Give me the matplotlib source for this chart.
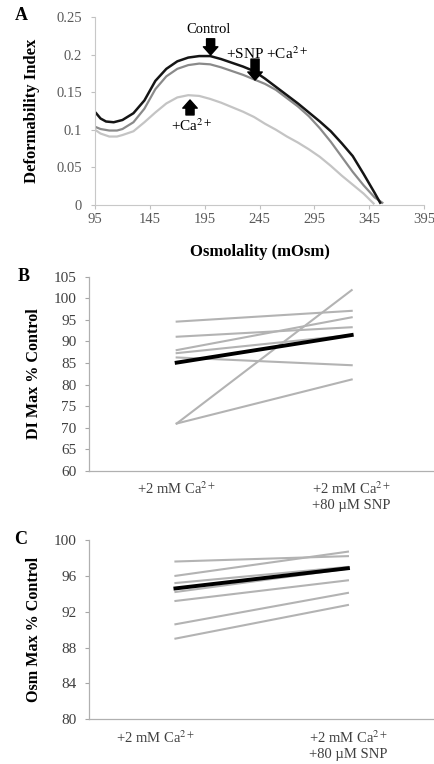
import matplotlib.pyplot as plt
from matplotlib.transforms import ScaledTranslation

plt.rcParams["font.family"] = ["Liberation Serif", "DejaVu Serif"]
plt.rcParams["mathtext.fontset"] = "stix"

# Panel A: deformability curves
osm_ctrl = [96, 100, 105, 112, 120, 130, 140, 150, 160, 170, 180, 190, 200,
            210, 220, 230, 240, 250, 260, 270, 280, 290, 300, 310, 320, 330,
            340, 350, 355]
di_ctrl = [0.122, 0.115, 0.111, 0.110, 0.113, 0.122, 0.139, 0.165, 0.181,
           0.191, 0.196, 0.198, 0.198, 0.194, 0.189, 0.184, 0.178, 0.168,
           0.157, 0.146, 0.135, 0.123, 0.111, 0.098, 0.082, 0.065, 0.041,
           0.016, 0.003]

osm_snp = [95, 100, 108, 115, 120, 130, 140, 150, 160, 170, 180, 190, 200,
           210, 220, 230, 240, 250, 260, 270, 280, 290, 300, 310, 320, 330,
           340, 350, 357]
di_snp = [0.104, 0.101, 0.099, 0.099, 0.101, 0.110, 0.128, 0.154, 0.171,
          0.181, 0.186, 0.188, 0.187, 0.183, 0.178, 0.173, 0.167, 0.161,
          0.153, 0.142, 0.131, 0.118, 0.102, 0.084, 0.064, 0.044, 0.026,
          0.010, 0.003]

osm_ca = [95, 100, 108, 115, 120, 130, 140, 150, 160, 170, 180, 190, 200,
          210, 220, 230, 240, 250, 260, 270, 280, 290, 300, 310, 320, 330,
          340, 349]
di_ca = [0.100, 0.095, 0.091, 0.091, 0.093, 0.098, 0.110, 0.123, 0.135,
         0.143, 0.146, 0.145, 0.141, 0.136, 0.130, 0.124, 0.117, 0.108,
         0.100, 0.091, 0.083, 0.074, 0.064, 0.052, 0.039, 0.027, 0.015,
         0.002]

# Panels B and C: paired values (Ca only, Ca + SNP)
categories = ["+2 mM Ca$^{2+}$", "+2 mM Ca$^{2+}$\n+80 \u00b5M SNP"]

di_ca_only = [94.6, 91.1, 88.0, 87.3, 86.3, 71.0, 71.0]
di_ca_snp = [97.1, 93.3, 95.6, 91.5, 84.5, 101.9, 81.2]
di_mean = [85.1, 91.5]

osm_ca_only = [97.6, 96.0, 95.2, 94.2, 93.2, 90.6, 89.0]
osm_ca_snp = [98.2, 98.7, 97.0, 96.8, 95.5, 94.1, 92.75]
osm_mean = [94.6, 96.85]

fig = plt.figure(figsize=(4.34, 7.64), dpi=100)

# ---------------- A ----------------
axA = fig.add_axes([0.219, 0.7317, 0.758, 0.2461])
axA.plot(osm_ca, di_ca, color="#c4c4c4", lw=1.6)
axA.plot(osm_snp, di_snp, color="#8a8a8a", lw=1.6)
axA.plot(osm_ctrl, di_ctrl, color="#151515", lw=1.8)

axA.set_xlim(95, 395)
axA.set_ylim(0, 0.25)
axA.set_xticks(range(95, 396, 50))
axA.set_yticks([0, 0.05, 0.1, 0.15, 0.2, 0.25])
axA.set_yticklabels(["0", "0.05", "0.1", "0.15", "0.2", "0.25"])
axA.tick_params(colors="#c0c0c0", labelcolor="#595959", labelsize=10.5,
                length=3, width=0.8)
axA.tick_params(axis="y", pad=6.5)
axA.tick_params(axis="x", pad=3)
for s in ["top", "right"]:
    axA.spines[s].set_visible(False)
for s in ["left", "bottom"]:
    axA.spines[s].set_color("#c8c8c8")
    axA.spines[s].set_linewidth(0.8)

axA.set_ylabel("Deformability Index", fontsize=12, fontweight="bold")
axA.yaxis.set_label_coords(-0.167, 0.5)
axA.set_xlabel("Osmolality (mOsm)", fontsize=12, fontweight="bold")
axA.xaxis.set_label_coords(0.5, -0.205)

arrow = dict(arrowstyle="simple,head_length=0.45,head_width=0.8,tail_width=0.45",
             mutation_scale=13, color="black", shrinkA=0, shrinkB=0)
axA.annotate("", xy=(200.4, 0.1995), xytext=(200.4, 0.221), arrowprops=arrow)
axA.annotate("", xy=(240.9, 0.166), xytext=(240.9, 0.194), arrowprops=arrow)
axA.annotate("", xy=(181.6, 0.1396), xytext=(181.6, 0.1197), arrowprops=arrow)
axA.text(198.3, 0.2327, "Control", ha="center", va="center", fontsize=10.5)
axA.text(214, 0.2017, "+SNP +Ca$^{2+}$", ha="left", va="center", fontsize=11)
axA.text(183.2, 0.105, "+Ca$^{2+}$", ha="center", va="center", fontsize=11)
fig.text(21.7 / 434, 1 - 15 / 764, "A", ha="center", va="center",
         fontsize=13, fontweight="bold")


def paired(ax, before, after, mean, ylim, yticks, ylabel):
    for b, a in zip(before, after):
        ax.plot([0, 1], [b, a], color="#b3b3b3", lw=1.5)
    ax.plot([0, 1], mean, color="black", lw=2.8)
    ax.set_xlim(-0.5, 1.5)
    ax.set_ylim(*ylim)
    ax.set_yticks(yticks)
    ax.set_xticks([0, 1])
    ax.set_xticklabels(categories)
    ax.tick_params(axis="y", colors="#a6a6a6", labelcolor="#404040",
                   labelsize=11, length=3, width=0.8, pad=6)
    ax.tick_params(axis="x", length=0, labelcolor="#404040", labelsize=10.5,
                   pad=7)
    for s in ["top", "right"]:
        ax.spines[s].set_visible(False)
    for s in ["left", "bottom"]:
        ax.spines[s].set_color("#b0b0b0")
        ax.spines[s].set_linewidth(0.9)
    ax.set_ylabel(ylabel, fontsize=11.6, fontweight="bold")


# ---------------- B ----------------
axB = fig.add_axes([0.2055, 0.3835, 350 / 434, 0.2543])
paired(axB, di_ca_only, di_ca_snp, di_mean, (60, 105), range(60, 106, 5),
       "DI Max % Control")
axB.yaxis.set_label_coords(-0.134, 0.5)
fig.text(23.3 / 434, 1 - 276.7 / 764, "B", ha="center", va="center",
         fontsize=13, fontweight="bold")

# ---------------- C ----------------
axC = fig.add_axes([0.2055, 0.0585, 345 / 434, 0.2347])
paired(axC, osm_ca_only, osm_ca_snp, osm_mean, (80, 100), range(80, 101, 4),
       "Osm Max % Control")
axC.yaxis.set_label_coords(-0.136, 0.5)
lab = axC.get_xticklabels()[0]
lab.set_transform(lab.get_transform() +
                  ScaledTranslation(-0.2, 0, fig.dpi_scale_trans))
fig.text(20.7 / 434, 1 - 540 / 764, "C", ha="center", va="center",
         fontsize=13, fontweight="bold")

fig.savefig("out.png", dpi=100)
